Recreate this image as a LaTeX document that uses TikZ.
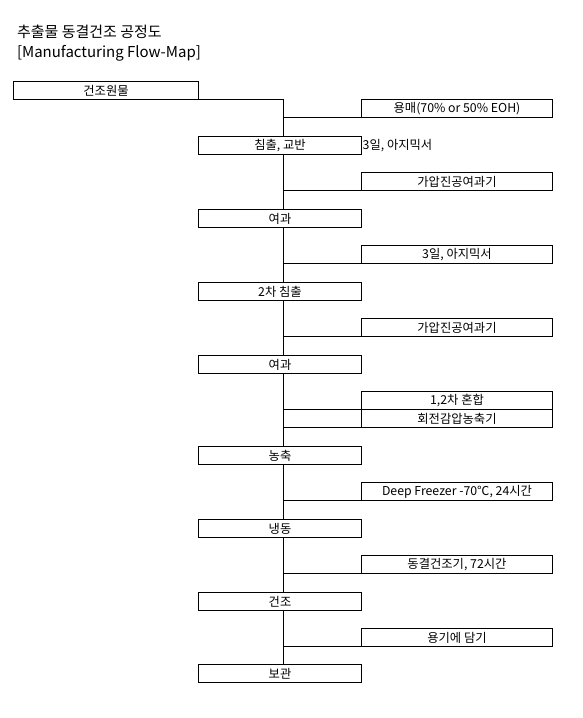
\documentclass[tikz,border=0pt]{standalone}
\usepackage{fontspec}
\setmainfont{Noto Sans CJK KR}

\begin{document}
\begin{tikzpicture}[x=1pt,y=-1pt,
  every node/.style={font=\fontsize{12.3}{13}\selectfont},
  proc/.style={draw,line width=1pt,minimum width=163pt,minimum height=18pt,inner sep=0pt,outer sep=0pt,anchor=north west},
  note/.style={proc,minimum width=191pt},
  link/.style={line width=1pt}]
\useasboundingbox (0,0) rectangle (583,718);
\begin{scope}[shift={(0.5,0.5)}]

\node[anchor=west,font=\fontsize{15}{17}\selectfont] (t1) at (13,31) {추출물 동결건조 공정도};
\node[anchor=west,font=\fontsize{15}{17}\selectfont] (t2) at (13,53) {[Manufacturing Flow-Map]};

% main steps and materials
\node[proc,minimum width=185pt] (raw) at (13,81) {건조원물};
\coordinate (sp) at (283,99);
\node[note] (m1) at (361,99) {용매(70\% or 50\% EOH)};
\node[proc] (s1) at (198,136) {침출, 교반};
\node[anchor=west,inner sep=1pt] (m1b) at (s1.east) {3일, 아지믹서};
\node[note] (m2) at (361,172) {가압진공여과기};
\node[proc] (s2) at (198,209) {여과};
\node[note] (m3) at (361,245) {3일, 아지믹서};
\node[proc] (s3) at (198,282) {2차 침출};
\node[note] (m4) at (361,318) {가압진공여과기};
\node[proc] (s4) at (198,355) {여과};
\node[note] (m5) at (361,391) {1,2차 혼합};
\node[note] (m6) at (361,409) {회전감압농축기};
\node[proc] (s5) at (198,446) {농축};
\node[note] (m7) at (361,482) {Deep Freezer -70℃, 24시간};
\node[proc] (s6) at (198,519) {냉동};
\node[note] (m8) at (361,555) {동결건조기, 72시간};
\node[proc] (s7) at (198,592) {건조};
\node[note] (m9) at (361,628) {용기에 담기};
\node[proc] (s8) at (198,664) {보관};

% connectors
\draw[link] (raw.south east) -- (sp) -- (sp |- s1.north);
\foreach \a/\b in {s1/s2,s2/s3,s3/s4,s4/s5,s5/s6,s6/s7,s7/s8}
  \draw[link] (sp |- \a.south) -- (sp |- \b.north);
\foreach \m in {m1,m2,m3,m4,m5,m6,m7,m8,m9}
  \draw[link] (sp |- \m.south west) -- (\m.south west);

\end{scope}
\end{tikzpicture}
\end{document}
